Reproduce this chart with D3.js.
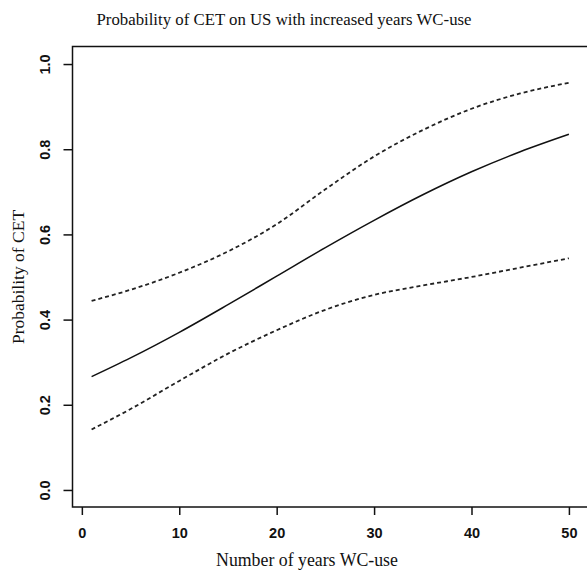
<!DOCTYPE html>
<html>
<head>
<meta charset="utf-8">
<script src="https://cdn.jsdelivr.net/npm/d3@7"></script>
<style>
  body { margin: 0; background: #fff; }
  svg { display: block; }
  .tick text { font-family: "Liberation Sans", Arial, sans-serif; font-size: 14.5px; font-weight: bold; fill: #111; }
  .ttl { font-family: "Liberation Serif", "Times New Roman", serif; fill: #111; }
</style>
</head>
<body>
<div id="chart"></div>
<script>
var years = [1, 5, 10, 15, 20, 25, 30, 35, 40, 45, 50];
// fitted probability and its confidence limits
var fit   = [0.266, 0.310, 0.370, 0.435, 0.502, 0.569, 0.633, 0.693, 0.747, 0.794, 0.835];
var upper = [0.444, 0.470, 0.510, 0.560, 0.624, 0.706, 0.783, 0.845, 0.895, 0.931, 0.956];
var lower = [0.142, 0.190, 0.256, 0.320, 0.375, 0.423, 0.458, 0.480, 0.500, 0.522, 0.544];
var xTicks = [0, 10, 20, 30, 40, 50];
var yTicks = [0.0, 0.2, 0.4, 0.6, 0.8, 1.0];

var W = 587, H = 572;
var svg = d3.select("#chart").append("svg")
  .attr("width", W)
  .attr("height", H);

var x = d3.scaleLinear().domain([-0.96, 51.96]).range([72.5, 588]);
var y = d3.scaleLinear().domain([-0.04, 1.04]).range([507, 47]);

// x axis
var gx = svg.append("g")
  .attr("transform", "translate(0,507)")
  .call(d3.axisBottom(x).tickValues(xTicks).tickSize(8).tickPadding(13).tickFormat(d3.format("d")));
gx.select(".domain").remove();
gx.selectAll(".tick line").attr("stroke", "#111").attr("stroke-width", 1.5);

// y axis, labels parallel to the axis like R
var gy = svg.append("g")
  .attr("transform", "translate(72.5,0)")
  .call(d3.axisLeft(y).tickValues(yTicks).tickSize(9).tickFormat(d3.format(".1f")));
gy.select(".domain").remove();
gy.selectAll(".tick line").attr("stroke", "#111").attr("stroke-width", 1.5);
gy.selectAll(".tick text")
  .attr("x", 0).attr("dy", null)
  .attr("text-anchor", "middle")
  .attr("transform", "translate(-27.5,0) rotate(-90)")
  .attr("dominant-baseline", "central");

// plot box
svg.append("rect")
  .attr("x", 72.5).attr("y", 46.5)
  .attr("width", 588 - 72.5).attr("height", 507 - 46.5)
  .attr("fill", "none")
  .attr("stroke", "#111")
  .attr("stroke-width", 1.5);

var line = function(vals) {
  return d3.line()
    .x(function(d, i) { return x(years[i]); })
    .y(function(d) { return y(d); })
    .curve(d3.curveMonotoneX)(vals);
};

svg.append("path").attr("d", line(fit))
  .attr("fill", "none").attr("stroke", "#111").attr("stroke-width", 1.5);
svg.append("path").attr("d", line(upper))
  .attr("fill", "none").attr("stroke", "#222").attr("stroke-width", 1.8).attr("stroke-dasharray", "4,3");
svg.append("path").attr("d", line(lower))
  .attr("fill", "none").attr("stroke", "#222").attr("stroke-width", 1.8).attr("stroke-dasharray", "4,3");

// titles
svg.append("text").attr("class", "ttl")
  .attr("x", 284).attr("y", 25)
  .attr("text-anchor", "middle")
  .style("font-size", "16.8px")
  .text("Probability of CET on US with increased years WC-use");

svg.append("text").attr("class", "ttl")
  .attr("x", 307).attr("y", 566)
  .attr("text-anchor", "middle")
  .style("font-size", "17.8px")
  .text("Number of years WC-use");

svg.append("text").attr("class", "ttl")
  .attr("transform", "translate(24,277) rotate(-90)")
  .attr("text-anchor", "middle")
  .style("font-size", "17.5px")
  .text("Probability of CET");
</script>
</body>
</html>
